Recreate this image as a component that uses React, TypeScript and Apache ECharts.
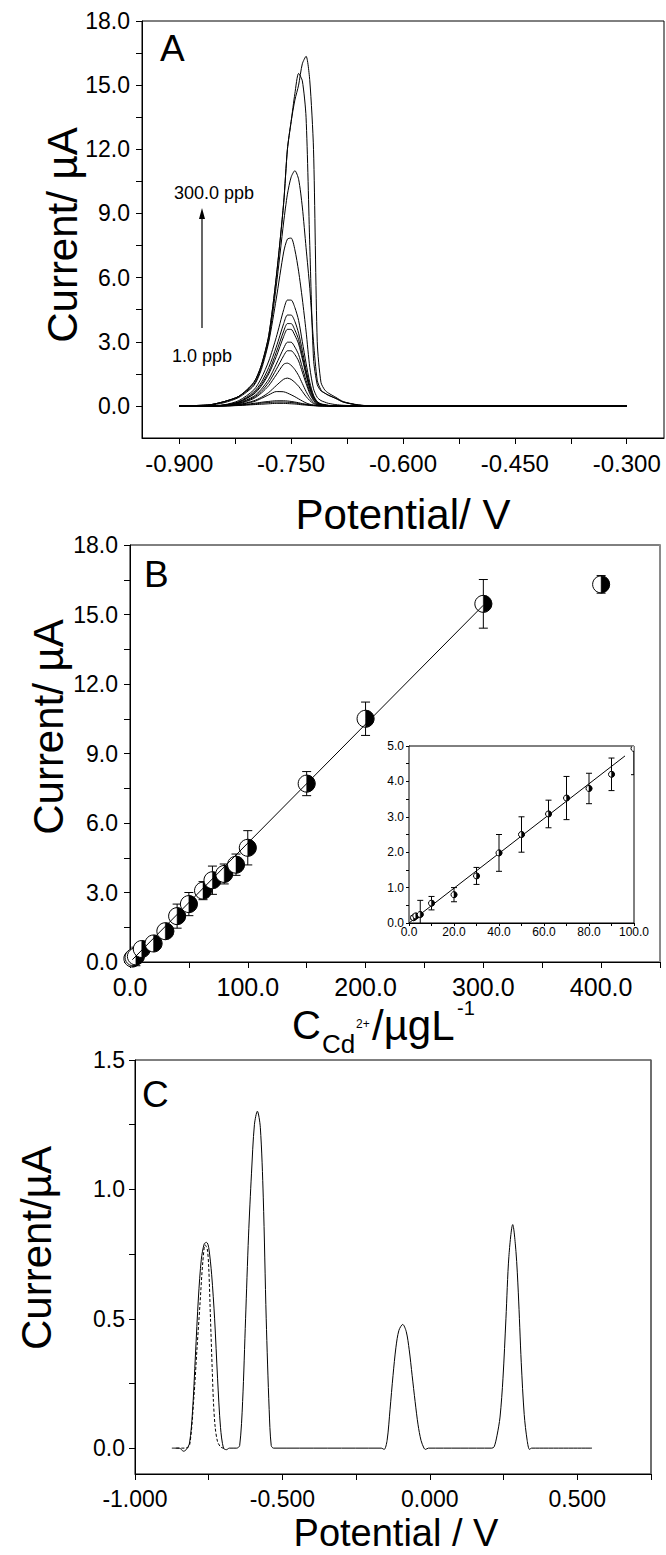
import React, { useEffect, useRef } from 'react';
import * as echarts from 'echarts';

const FONT = '"Liberation Sans", Arial, sans-serif';

// ---------- Panel A: DPASV curves ----------
const potentialA = [-0.90, -0.86, -0.84, -0.82, -0.80, -0.79, -0.78, -0.77, -0.76, -0.755, -0.75, -0.745, -0.74, -0.735, -0.73, -0.725, -0.72, -0.715, -0.71, -0.705, -0.70, -0.69, -0.68, -0.66, -0.64, -0.30];
const curveA01 = [0, 0.05, 0.2, 0.45, 1.1, 1.9, 3.3, 6.0, 9.5, 12.0, 13.3, 14.3, 15.0, 16.0, 16.35, 15.2, 12.0, 3.0, 1.1, 0.75, 0.6, 0.4, 0.2, 0.05, 0, 0];
const curveA02 = [0, 0.05, 0.2, 0.45, 1.1, 1.9, 3.3, 6.0, 9.5, 12.0, 13.3, 14.6, 15.55, 15.2, 13.5, 7.5, 2.2, 1.0, 0.7, 0.6, 0.5, 0.35, 0.18, 0.04, 0, 0];
const curveA03 = [0, 0.05, 0.2, 0.45, 1.0, 1.8, 3.1, 5.6, 8.6, 9.9, 10.7, 11.0, 10.6, 9.3, 7.4, 5.5, 3.0, 1.2, 0.75, 0.6, 0.5, 0.35, 0.18, 0.04, 0, 0];
const curveA04 = [0, 0.03, 0.15, 0.4, 0.95, 1.7, 3.0, 5.0, 7.2, 7.8, 7.85, 7.3, 6.3, 5.0, 3.5, 1.8, 0.8, 0.4, 0.25, 0.18, 0.12, 0.06, 0.03, 0, 0, 0];
const curveA05 = [0, 0, 0.05, 0.25, 0.75, 1.3, 2.1, 3.2, 4.5, 4.95, 4.95, 4.6, 4.0, 3.0, 2.0, 1.1, 0.5, 0.2, 0.1, 0.06, 0.03, 0, 0, 0, 0, 0];
const curveA06 = [0, 0, 0.04, 0.2, 0.65, 1.1, 1.8, 2.75, 3.85, 4.25, 4.25, 3.95, 3.4, 2.6, 1.7, 0.95, 0.45, 0.18, 0.08, 0.05, 0.02, 0, 0, 0, 0, 0];
const curveA07 = [0, 0, 0.04, 0.18, 0.58, 1.0, 1.6, 2.5, 3.5, 3.85, 3.85, 3.55, 3.1, 2.35, 1.55, 0.85, 0.4, 0.16, 0.07, 0.04, 0.02, 0, 0, 0, 0, 0];
const curveA08 = [0, 0, 0.03, 0.17, 0.55, 0.93, 1.5, 2.3, 3.25, 3.58, 3.58, 3.3, 2.9, 2.2, 1.45, 0.8, 0.37, 0.15, 0.06, 0.03, 0.01, 0, 0, 0, 0, 0];
const curveA09 = [0, 0, 0.03, 0.14, 0.45, 0.78, 1.25, 1.95, 2.7, 2.98, 2.98, 2.75, 2.4, 1.8, 1.2, 0.66, 0.3, 0.12, 0.05, 0.03, 0.01, 0, 0, 0, 0, 0];
const curveA10 = [0, 0, 0.02, 0.12, 0.4, 0.68, 1.1, 1.7, 2.35, 2.58, 2.58, 2.4, 2.1, 1.58, 1.05, 0.57, 0.26, 0.1, 0.04, 0.02, 0.01, 0, 0, 0, 0, 0];
const curveA11 = [0, 0, 0.02, 0.1, 0.35, 0.6, 0.95, 1.45, 1.95, 2.0, 1.9, 1.7, 1.42, 1.05, 0.68, 0.38, 0.17, 0.07, 0.03, 0.01, 0, 0, 0, 0, 0, 0];
const curveA12 = [0, 0, 0.01, 0.07, 0.24, 0.4, 0.63, 0.95, 1.25, 1.3, 1.24, 1.1, 0.92, 0.68, 0.44, 0.25, 0.11, 0.05, 0.02, 0.01, 0, 0, 0, 0, 0, 0];
const curveA13 = [0, 0, 0.01, 0.06, 0.2, 0.35, 0.52, 0.67, 0.66, 0.6, 0.52, 0.43, 0.33, 0.23, 0.14, 0.08, 0.04, 0.02, 0.01, 0, 0, 0, 0, 0, 0, 0];
const curveA14 = [0, 0, 0, 0.04, 0.12, 0.17, 0.21, 0.24, 0.24, 0.23, 0.21, 0.18, 0.15, 0.11, 0.08, 0.05, 0.03, 0.01, 0, 0, 0, 0, 0, 0, 0, 0];
const curveA15 = [0, 0, 0, 0.03, 0.09, 0.13, 0.16, 0.18, 0.18, 0.17, 0.16, 0.14, 0.11, 0.08, 0.06, 0.04, 0.02, 0.01, 0, 0, 0, 0, 0, 0, 0, 0];
const curveA16 = [0, 0, 0, 0.02, 0.06, 0.08, 0.1, 0.12, 0.12, 0.11, 0.1, 0.09, 0.07, 0.05, 0.04, 0.02, 0.01, 0, 0, 0, 0, 0, 0, 0, 0, 0];
const curvesA = [curveA01, curveA02, curveA03, curveA04, curveA05, curveA06, curveA07, curveA08, curveA09, curveA10, curveA11, curveA12, curveA13, curveA14, curveA15, curveA16];

const xATickLabels = [-0.9, -0.75, -0.6, -0.45, -0.3];
const xATicks = [-0.9, -0.825, -0.75, -0.675, -0.6, -0.525, -0.45, -0.375, -0.3];
const yATickLabels = [0, 3, 6, 9, 12, 15, 18];
const yATicks = [0, 1.5, 3, 4.5, 6, 7.5, 9, 10.5, 12, 13.5, 15, 16.5, 18];

// ---------- Panel B: calibration ----------
const concB = [2, 3, 5, 10, 20, 30, 40, 50, 62, 70, 80, 90, 100, 150, 200, 300, 400];
const currentB = [0.15, 0.2, 0.24, 0.56, 0.8, 1.33, 1.98, 2.5, 3.08, 3.53, 3.8, 4.2, 4.93, 7.7, 10.5, 15.46, 16.3];
const errorB = [0.05, 0.05, 0.4, 0.19, 0.2, 0.24, 0.52, 0.5, 0.39, 0.61, 0.43, 0.46, 0.74, 0.52, 0.72, 1.05, 0.38];
const fitMainX = [2, 300];
const fitMainY = [0.1, 15.4];
const fitInsetX = [0, 96];
const fitInsetY = [0, 4.72];

const xBTickLabels = [0, 100, 200, 300, 400];
const xBTicks = [0, 50, 100, 150, 200, 250, 300, 350, 400, 450];
const yBTickLabels = [0, 3, 6, 9, 12, 15, 18];
const yBTicks = [0, 1.5, 3, 4.5, 6, 7.5, 9, 10.5, 12, 13.5, 15, 16.5, 18];
const xInsetTickLabels = [0, 20, 40, 60, 80, 100];
const xInsetTicks = [0, 10, 20, 30, 40, 50, 60, 70, 80, 90, 100];
const yInsetTickLabels = [0, 1, 2, 3, 4, 5];
const yInsetTicks = [0, 0.5, 1, 1.5, 2, 2.5, 3, 3.5, 4, 4.5, 5];

// ---------- Panel C: interference scan ----------
const traceCSolid = [
  [-0.875, 0], [-0.85, 0], [-0.835, -0.012], [-0.825, -0.004], [-0.815, 0.02], [-0.805, 0.14], [-0.795, 0.36],
  [-0.785, 0.58], [-0.775, 0.73], [-0.765, 0.79], [-0.757, 0.795], [-0.75, 0.775], [-0.74, 0.67], [-0.73, 0.5],
  [-0.72, 0.27], [-0.71, 0.08], [-0.70, 0], [-0.69, -0.006], [-0.68, 0], [-0.655, 0], [-0.645, 0.01],
  [-0.635, 0.18], [-0.625, 0.5], [-0.615, 0.82], [-0.605, 1.06], [-0.595, 1.25], [-0.585, 1.302], [-0.575, 1.24],
  [-0.565, 0.97], [-0.555, 0.5], [-0.545, 0.15], [-0.538, 0.01], [-0.53, 0], [-0.165, 0], [-0.155, -0.005],
  [-0.145, 0.03], [-0.135, 0.15], [-0.125, 0.28], [-0.115, 0.39], [-0.105, 0.455], [-0.092, 0.478], [-0.08, 0.45],
  [-0.07, 0.38], [-0.06, 0.28], [-0.05, 0.18], [-0.04, 0.09], [-0.03, 0.03], [-0.02, 0], [-0.015, -0.005],
  [-0.005, 0], [0.21, 0], [0.218, 0.005], [0.228, 0.05], [0.238, 0.12], [0.248, 0.27], [0.258, 0.5],
  [0.268, 0.74], [0.281, 0.864], [0.292, 0.76], [0.30, 0.6], [0.31, 0.33], [0.32, 0.13], [0.33, 0.03],
  [0.338, -0.005], [0.345, 0], [0.55, 0],
];
const traceCDashed = [
  [-0.86, 0], [-0.83, 0], [-0.815, 0.01], [-0.80, 0.2], [-0.79, 0.38], [-0.78, 0.55], [-0.77, 0.72],
  [-0.762, 0.785], [-0.755, 0.77], [-0.75, 0.7], [-0.744, 0.5], [-0.738, 0.3], [-0.734, 0.18], [-0.728, 0.08],
  [-0.72, 0.025], [-0.71, 0.005], [-0.70, 0], [-0.69, 0],
];
const xCTickLabels = [-1, -0.5, 0, 0.5];
const xCTicks = [-1, -0.75, -0.5, -0.25, 0, 0.25, 0.5, 0.75];
const yCTickLabels = [0, 0.5, 1, 1.5];
const yCTicks = [0, 0.25, 0.5, 0.75, 1, 1.25, 1.5];

function valAxis(grid: number, min: number, max: number, labels: number[], ticks: number[], digits: number, fontSize: number, margin: number, tickLen: number) {
  return {
    type: 'value', gridIndex: grid, min, max,
    axisLine: { show: true, onZero: false, lineStyle: { color: '#000', width: 1 } },
    axisTick: { show: true, customValues: ticks, length: tickLen, lineStyle: { color: '#000', width: 1 } },
    axisLabel: {
      customValues: labels, color: '#000', fontFamily: FONT, fontSize, margin,
      formatter: (v: number) => Number(v).toFixed(digits),
    },
    splitLine: { show: false },
    minorTick: { show: false },
  };
}

function rightBorder(grid: number, min: number, max: number, color: string, width: number) {
  return {
    type: 'value', gridIndex: grid, min, max, position: 'right',
    axisLine: { show: true, onZero: false, lineStyle: { color, width } },
    axisTick: { show: false }, axisLabel: { show: false }, splitLine: { show: false },
  };
}

function errorRender(cap: number) {
  return (params: any, api: any) => {
    const x = api.value(0), y = api.value(1), e = api.value(2);
    const t = api.coord([x, y + e]);
    const b = api.coord([x, y - e]);
    const st = { stroke: '#000', lineWidth: 1, fill: 'none' };
    return {
      type: 'group', children: [
        { type: 'line', shape: { x1: t[0], y1: t[1], x2: b[0], y2: b[1] }, style: st },
        { type: 'line', shape: { x1: t[0] - cap, y1: t[1], x2: t[0] + cap, y2: t[1] }, style: st },
        { type: 'line', shape: { x1: b[0] - cap, y1: b[1], x2: b[0] + cap, y2: b[1] }, style: st },
      ],
    };
  };
}

function halfRender(r: number) {
  return (params: any, api: any) => {
    const p = api.coord([api.value(0), api.value(1)]);
    return {
      type: 'group', children: [
        { type: 'circle', shape: { cx: p[0], cy: p[1], r }, style: { fill: '#fff', stroke: '#000', lineWidth: 1 } },
        { type: 'sector', shape: { cx: p[0], cy: p[1], r0: 0, r, startAngle: -Math.PI / 2, endAngle: Math.PI / 2, clockwise: true }, style: { fill: '#000', stroke: '#000', lineWidth: 0.5 } },
      ],
    };
  };
}

export default function App() {
  const ref = useRef<HTMLDivElement>(null);
  useEffect(() => {
    if (!ref.current) return;
    const chart = echarts.init(ref.current, undefined, { renderer: 'svg' });
    const pointsB = concB.map((c, i) => [c, currentB[i], errorB[i]]);
    const lineStyleBlack = { color: '#000', width: 1 };

    const seriesA = curvesA.map((curve, k) => ({
      type: 'line', xAxisIndex: 0, yAxisIndex: 0, name: 'A' + k,
      data: potentialA.map((x, i) => [x, curve[i]]),
      showSymbol: false, symbol: 'none', smooth: 0.25,
      lineStyle: lineStyleBlack, silent: true,
    }));

    const option: any = {
      animation: false,
      backgroundColor: '#fff',
      grid: [
        { left: 142, top: 21, width: 522, height: 417, show: true, borderColor: '#000', borderWidth: 1, backgroundColor: 'transparent' },
        { left: 130, top: 545, width: 530, height: 417, show: true, borderColor: '#000', borderWidth: 1, backgroundColor: 'transparent' },
        { left: 409, top: 746, width: 225, height: 177, show: true, borderColor: '#000', borderWidth: 1, backgroundColor: '#fff', z: 5 },
        { left: 135, top: 1060, width: 516, height: 414, show: true, borderColor: '#000', borderWidth: 1, backgroundColor: 'transparent' },
      ],
      xAxis: [
        valAxis(0, -0.95, -0.25, xATickLabels, xATicks, 3, 24, 13, 6),
        valAxis(1, 0, 450, xBTickLabels, xBTicks, 1, 25, 12, 6),
        valAxis(2, 0, 100, xInsetTickLabels, xInsetTicks, 1, 12, 3, 3),
        valAxis(3, -1, 0.75, xCTickLabels, xCTicks, 3, 23, 13, 6),
      ],
      yAxis: [
        valAxis(0, -1.5, 18, yATickLabels, yATicks, 1, 23, 12, 6),
        valAxis(1, 0, 18, yBTickLabels, yBTicks, 1, 23, 12, 6),
        valAxis(2, 0, 5, yInsetTickLabels, yInsetTicks, 1, 12, 5, 3),
        valAxis(3, -0.1, 1.5, yCTickLabels, yCTicks, 1, 23, 10, 6),
        rightBorder(1, 0, 18, '#8a8a8a', 2),
        rightBorder(3, -0.1, 1.5, '#6a6a6a', 1.5),
      ],
      series: [
        ...seriesA,
        {
          type: 'line', xAxisIndex: 1, yAxisIndex: 1, silent: true,
          data: fitMainX.map((x, i) => [x, fitMainY[i]]), showSymbol: false, symbol: 'none',
          lineStyle: lineStyleBlack,
        },
        {
          type: 'custom', xAxisIndex: 1, yAxisIndex: 1, silent: true,
          data: pointsB, encode: { x: 0, y: 1 }, renderItem: errorRender(4.5),
        },
        {
          type: 'custom', xAxisIndex: 1, yAxisIndex: 1, silent: true,
          data: pointsB, encode: { x: 0, y: 1 }, renderItem: halfRender(8.5),
        },
        {
          type: 'line', xAxisIndex: 2, yAxisIndex: 2, silent: true, z: 6,
          data: fitInsetX.map((x, i) => [x, fitInsetY[i]]), showSymbol: false, symbol: 'none',
          lineStyle: lineStyleBlack,
        },
        {
          type: 'custom', xAxisIndex: 2, yAxisIndex: 2, silent: true, clip: true, z: 6,
          data: pointsB, encode: { x: 0, y: 1 }, renderItem: errorRender(3),
        },
        {
          type: 'custom', xAxisIndex: 2, yAxisIndex: 2, silent: true, clip: true, z: 7,
          data: pointsB, encode: { x: 0, y: 1 }, renderItem: halfRender(3),
        },
        {
          type: 'line', xAxisIndex: 3, yAxisIndex: 3, silent: true,
          data: traceCSolid, showSymbol: false, symbol: 'none', smooth: 0.3,
          lineStyle: lineStyleBlack,
        },
        {
          type: 'line', xAxisIndex: 3, yAxisIndex: 3, silent: true,
          data: traceCDashed, showSymbol: false, symbol: 'none', smooth: 0.3,
          lineStyle: { color: '#000', width: 1, type: [3, 2] },
        },
      ],
      graphic: [
        // Panel A texts
        { type: 'text', x: 160, y: 48, style: { text: 'A', font: `37px ${FONT}`, fill: '#000', textVerticalAlign: 'middle' } },
        { type: 'text', x: 174, y: 193, style: { text: '300.0 ppb', font: `18px ${FONT}`, fill: '#000', textVerticalAlign: 'middle' } },
        { type: 'text', x: 172, y: 356, style: { text: '1.0 ppb', font: `18px ${FONT}`, fill: '#000', textVerticalAlign: 'middle' } },
        { type: 'line', shape: { x1: 202, y1: 328, x2: 202, y2: 216 }, style: { stroke: '#000', lineWidth: 1.2 } },
        { type: 'polygon', shape: { points: [[202, 208], [199, 219], [205, 219]] }, style: { fill: '#000' } },
        { type: 'text', x: 62, y: 235, rotation: Math.PI / 2, style: { text: 'Current/ µA', font: `42px ${FONT}`, fill: '#000', textAlign: 'center', textVerticalAlign: 'middle' } },
        { type: 'text', x: 403, y: 514, style: { text: 'Potential/ V', font: `42px ${FONT}`, fill: '#000', textAlign: 'center', textVerticalAlign: 'middle' } },
        // Panel B texts
        { type: 'text', x: 144, y: 574, style: { text: 'B', font: `37px ${FONT}`, fill: '#000', textVerticalAlign: 'middle' } },
        { type: 'text', x: 48, y: 727, rotation: Math.PI / 2, style: { text: 'Current/ µA', font: `42px ${FONT}`, fill: '#000', textAlign: 'center', textVerticalAlign: 'middle' } },
        { type: 'text', x: 292, y: 1025, style: { text: 'C', font: `40px ${FONT}`, fill: '#000', textVerticalAlign: 'middle' } },
        { type: 'text', x: 322, y: 1044, style: { text: 'Cd', font: `26px ${FONT}`, fill: '#000', textVerticalAlign: 'middle' } },
        { type: 'text', x: 356, y: 1024, style: { text: '2+', font: `12px ${FONT}`, fill: '#000', textVerticalAlign: 'middle' } },
        { type: 'text', x: 372, y: 1025, style: { text: '/µgL', font: `42px ${FONT}`, fill: '#000', textVerticalAlign: 'middle' } },
        { type: 'text', x: 457, y: 1008, style: { text: '-1', font: `20px ${FONT}`, fill: '#000', textVerticalAlign: 'middle' } },
        // Panel C texts
        { type: 'text', x: 142, y: 1094, style: { text: 'C', font: `37px ${FONT}`, fill: '#000', textVerticalAlign: 'middle' } },
        { type: 'text', x: 36, y: 1248, rotation: Math.PI / 2, style: { text: 'Current/µA', font: `42px ${FONT}`, fill: '#000', textAlign: 'center', textVerticalAlign: 'middle' } },
        { type: 'text', x: 396, y: 1533, style: { text: 'Potential / V', font: `38px ${FONT}`, fill: '#000', textAlign: 'center', textVerticalAlign: 'middle' } },
      ],
    };
    chart.setOption(option);
    return () => chart.dispose();
  }, []);
  return <div ref={ref} style={{ position: 'absolute', left: 0, top: 0, width: 666, height: 1555, background: '#fff' }} />;
}
